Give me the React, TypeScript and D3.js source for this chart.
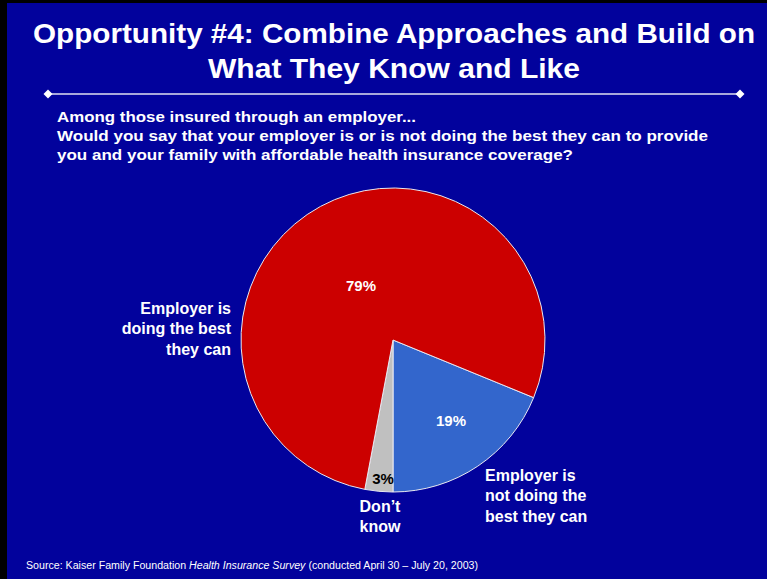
import React from "react";
import * as d3 from "d3";

const categories = ["Employer is not doing the best they can", "Don't know", "Employer is doing the best they can"];
const values = [19, 3, 79];
const valueLabels = ["19%", "3%", "79%"];
const colors = ["#3366CC", "#C0C0C0", "#CC0000"];
const titleLines = ["Opportunity #4: Combine Approaches and Build on", "What They Know and Like"];
const subtitleLines = [
  "Among those insured through an employer...",
  "Would you say that your employer is or is not doing the best they can to provide",
  "you and your family with affordable health insurance coverage?",
];

const W = 767;
const H = 579;

export default function App() {
  const cx = 393;
  const cy = 340;
  const r = 152;
  const total = d3.sum(values);
  const start = Math.PI - (2 * Math.PI * values[0]) / total;
  const pie = d3
    .pie<number>()
    .sort(null)
    .startAngle(start)
    .endAngle(start + 2 * Math.PI)(values);
  const arc = d3.arc<d3.PieArcDatum<number>>().innerRadius(0).outerRadius(r);

  const labelPos: [number, number][] = [
    [451, 420],
    [383, 478],
    [361, 285],
  ];
  const labelColor = ["#FFFFFF", "#000000", "#FFFFFF"];

  const font = "'Liberation Sans', Arial, sans-serif";

  return (
    <svg
      width={W}
      height={H}
      style={{ position: "absolute", left: 0, top: 0, display: "block" }}
      fontFamily={font}
    >
      <rect x={0} y={0} width={W} height={H} fill="#000000" />
      <rect x={7} y={3} width={W - 7} height={H - 3} fill="#02029C" />

      {titleLines.map((t, i) => (
        <text
          key={t}
          x={394}
          y={43 + i * 35}
          textAnchor="middle"
          fill="#FFFFFF"
          fontWeight="bold"
          fontSize={28}
          textLength={i === 0 ? 722 : 372}
          lengthAdjust="spacingAndGlyphs"
        >
          {t}
        </text>
      ))}

      <line x1={48} x2={740} y1={94} y2={94} stroke="#E0E0F0" strokeWidth={1.5} />
      {[48, 740].map((x) => (
        <path key={x} d={`M${x - 4.5},94 L${x},89.5 L${x + 4.5},94 L${x},98.5 Z`} fill="#FFFFFF" />
      ))}

      {subtitleLines.map((t, i) => (
        <text
          key={t}
          x={57}
          y={122 + i * 19}
          fill="#FFFFFF"
          fontWeight="bold"
          fontSize={15}
          textLength={[359, 651, 516][i]}
          lengthAdjust="spacingAndGlyphs"
        >
          {t}
        </text>
      ))}

      <g transform={`translate(${cx},${cy})`}>
        {pie.map((d, i) => (
          <path key={categories[i]} d={arc(d) || ""} fill={colors[i]} stroke="#E8E8F0" strokeWidth={1} />
        ))}
      </g>
      {pie.map((d, i) => (
        <text
          key={valueLabels[i]}
          x={labelPos[i][0]}
          y={labelPos[i][1]}
          textAnchor="middle"
          dominantBaseline="central"
          fill={labelColor[i]}
          fontWeight="bold"
          fontSize={15}
        >
          {valueLabels[i]}
        </text>
      ))}

      {["Employer is", "doing the best", "they can"].map((t, i) => (
        <text key={t} x={231} y={308 + i * 20.5} textAnchor="end" dominantBaseline="central" fill="#FFFFFF" fontWeight="bold" fontSize={16}>
          {t}
        </text>
      ))}
      {["Employer is", "not doing the", "best they can"].map((t, i) => (
        <text key={t} x={485} y={475 + i * 20.5} dominantBaseline="central" fill="#FFFFFF" fontWeight="bold" fontSize={16}>
          {t}
        </text>
      ))}
      {["Don\u2019t", "know"].map((t, i) => (
        <text key={t} x={380} y={506 + i * 20} textAnchor="middle" dominantBaseline="central" fill="#FFFFFF" fontWeight="bold" fontSize={16}>
          {t}
        </text>
      ))}

      <text x={26} y={569} fill="#FFFFFF" fontSize={10} textLength={452} lengthAdjust="spacingAndGlyphs">
        Source: Kaiser Family Foundation <tspan fontStyle="italic">Health Insurance Survey</tspan> (conducted April 30 – July 20, 2003)
      </text>
    </svg>
  );
}
